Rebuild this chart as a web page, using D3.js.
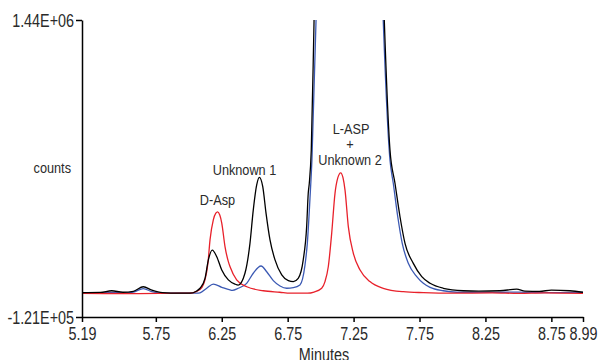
<!DOCTYPE html>
<html>
<head>
<meta charset="utf-8">
<script src="https://cdn.jsdelivr.net/npm/d3@7"></script>
<style>
  body { margin: 0; background: #fff; }
  svg { display: block; }
  text { font-family: "Liberation Sans", Arial, sans-serif; fill: #2a2a2a; }
</style>
</head>
<body>
<div id="chart"></div>
<script>
// minutes / counts
const redTime = [5.19, 5.60, 5.95, 6.00, 6.06, 6.10, 6.123, 6.145, 6.161, 6.186, 6.205, 6.219, 6.235, 6.25, 6.275, 6.30, 6.313, 6.363, 6.44, 6.565, 6.69, 6.77, 6.90, 6.95, 7.008, 7.033, 7.058, 7.084, 7.109, 7.13, 7.152, 7.17, 7.185, 7.21, 7.248, 7.299, 7.374, 7.475, 7.627, 7.78, 8.0, 8.3, 8.5, 8.7, 8.99];
const redCounts = [3000, 2000, 4000, 4000, 14000, 35000, 74000, 160000, 284000, 389000, 425000, 432000, 415000, 373000, 248000, 170000, 143000, 74000, 38000, 17000, 9000, 4000, 4000, 10000, 30000, 65000, 143000, 320000, 529000, 610000, 637000, 610000, 546000, 354000, 214000, 126000, 65000, 30000, 12000, 7000, 4000, 6000, 3000, 6000, 3000];

const blackTime = [5.19, 5.33, 5.415, 5.50, 5.58, 5.655, 5.72, 5.80, 5.93, 6.01, 6.06, 6.085, 6.123, 6.148, 6.178, 6.212, 6.25, 6.30, 6.35, 6.375, 6.426, 6.464, 6.489, 6.515, 6.535, 6.561, 6.586, 6.616, 6.654, 6.705, 6.755, 6.793, 6.830, 6.868, 6.894, 6.906, 6.914, 6.929, 6.950, 6.97, 7.15, 7.45, 7.483, 7.526, 7.564, 7.602, 7.640, 7.703, 7.767, 7.830, 7.930, 8.082, 8.20, 8.36, 8.487, 8.55, 8.66, 8.75, 8.89, 8.99];
const blackCounts = [7000, 8000, 17000, 9000, 14000, 38000, 20000, 7000, 4000, 4000, 16000, 30000, 82000, 178000, 231000, 196000, 126000, 74000, 52000, 47000, 109000, 266000, 441000, 573000, 613000, 564000, 424000, 284000, 179000, 100000, 70000, 65000, 82000, 179000, 354000, 529000, 582000, 757000, 1435000, 2100000, 5000000, 2200000, 1435000, 757000, 582000, 406000, 266000, 161000, 91000, 56000, 30000, 17000, 15000, 17000, 25000, 15000, 14000, 20000, 17000, 9000];

const blueTime = [5.19, 5.33, 5.42, 5.50, 5.58, 5.655, 5.72, 5.80, 6.06, 6.085, 6.136, 6.186, 6.25, 6.313, 6.33, 6.375, 6.439, 6.489, 6.548, 6.591, 6.641, 6.692, 6.743, 6.793, 6.843, 6.881, 6.899, 6.919, 6.934, 6.965, 6.985, 7.15, 7.44, 7.475, 7.526, 7.551, 7.585, 7.619, 7.665, 7.729, 7.779, 7.830, 7.930, 8.032, 8.30, 8.50, 8.70, 8.99];
const blueCounts = [4000, 5000, 8000, 5000, 10000, 28000, 12000, 4000, 4000, 6000, 30000, 52000, 35000, 21000, 19000, 30000, 56000, 109000, 147000, 117000, 70000, 42000, 30000, 33000, 47000, 150000, 266000, 500000, 704000, 1435000, 2100000, 5000000, 2200000, 1435000, 704000, 582000, 406000, 266000, 161000, 91000, 56000, 35000, 17000, 9000, 8000, 10000, 7000, 8000];

const xTicks = [5.19, 5.75, 6.25, 6.75, 7.25, 7.75, 8.25, 8.75, 8.99];
const yTicks = [-121000, 1440000];
const yTickLabels = ['-1.21E+05', '1.44E+06'];

const width = 600, height = 360;
const plot = { left: 82, right: 583, top: 20, bottom: 317 };

const svg = d3.select('#chart').append('svg')
  .attr('width', width)
  .attr('height', height);

const x = d3.scaleLinear().domain([5.19, 8.99]).range([plot.left, plot.right]);
const y = d3.scaleLinear().domain([-121000, 1440000]).range([plot.bottom, plot.top]);

svg.append('clipPath').attr('id', 'clip')
  .append('rect')
  .attr('x', plot.left).attr('y', plot.top)
  .attr('width', plot.right - plot.left).attr('height', plot.bottom - plot.top);

const line = d3.line()
  .x(d => x(d[0]))
  .y(d => y(d[1]))
  .curve(d3.curveMonotoneX);

const series = [
  { name: 'blue', color: '#3b59b3', t: blueTime, c: blueCounts },
  { name: 'red', color: '#e8212b', t: redTime, c: redCounts },
  { name: 'black', color: '#000', t: blackTime, c: blackCounts }
];

const g = svg.append('g').attr('clip-path', 'url(#clip)');
series.forEach(s => {
  g.append('path')
    .datum(d3.zip(s.t, s.c))
    .attr('fill', 'none')
    .attr('stroke', s.color)
    .attr('stroke-width', 1.3)
    .attr('stroke-linejoin', 'round')
    .attr('d', line);
});

// axes
const xAxis = d3.axisBottom(x).tickValues(xTicks).tickFormat(d3.format('.2f')).tickSize(5).tickSizeOuter(0);
const yAxis = d3.axisLeft(y).tickValues(yTicks).tickFormat((d, i) => yTickLabels[i]).tickSize(6).tickSizeOuter(0);

const gx = svg.append('g')
  .attr('transform', 'translate(0,' + plot.bottom + ')')
  .call(xAxis);
gx.selectAll('text').attr('font-size', 17.5).attr('dy', '1.0em').attr('y', 5).attr('font-family', null).attr('fill', null);

const gy = svg.append('g')
  .attr('transform', 'translate(' + plot.left + ',0)')
  .call(yAxis);
gy.selectAll('text').attr('font-size', 17.5).attr('x', -8).attr('dy', '0.36em').attr('font-family', null).attr('fill', null);

svg.selectAll('.domain, .tick line').attr('stroke', '#000').attr('stroke-width', 1.5);

svg.append('text')
  .attr('x', 324).attr('y', 361)
  .attr('text-anchor', 'middle')
  .attr('font-size', 17.5)
  .text('Minutes');

svg.append('text')
  .attr('x', 71).attr('y', 173)
  .attr('text-anchor', 'end')
  .attr('font-size', 15.5)
  .text('counts');

// peak labels
const labels = [
  { text: 'D-Asp', x: 217.5, y: 205 },
  { text: 'Unknown 1', x: 244.5, y: 175 },
  { text: 'L-ASP', x: 351, y: 133.5 },
  { text: '+', x: 350, y: 149 },
  { text: 'Unknown 2', x: 350, y: 164.5 }
];
svg.selectAll('.peak-label')
  .data(labels)
  .enter().append('text')
  .attr('class', 'peak-label')
  .attr('x', d => d.x)
  .attr('y', d => d.y)
  .attr('text-anchor', 'middle')
  .attr('font-size', 15.5)
  .text(d => d.text);

// the original uses a condensed face: squeeze every label horizontally
svg.selectAll('text').each(function() {
  const len = this.getComputedTextLength();
  d3.select(this)
    .attr('textLength', len * 0.82)
    .attr('lengthAdjust', 'spacingAndGlyphs');
});
</script>
</body>
</html>
